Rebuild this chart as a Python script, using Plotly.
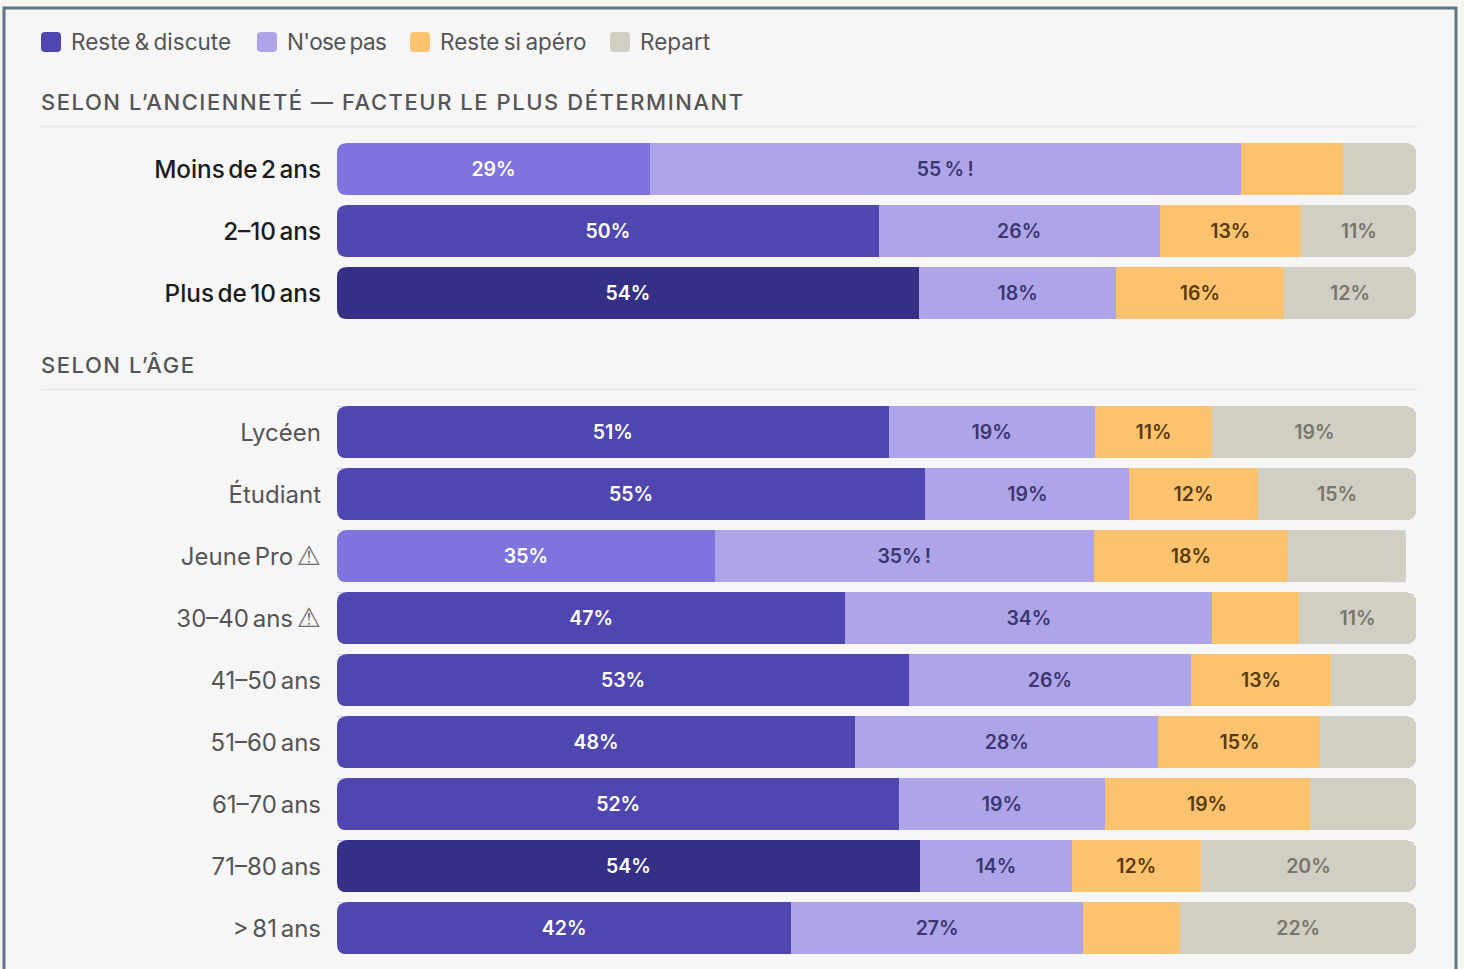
import plotly.graph_objects as go

W, H = 1464, 969

series_names = ["Reste & discute", "N'ose pas", "Reste si apéro", "Repart"]
series_colors = ["#4F46B0", "#AEA5E8", "#FBC370", "#D1CEC4"]
text_colors = ["#FFFFFF", "#3B3570", "#5A3A0C", "#77756C"]

tenure_cats = ["Moins de 2 ans", "2–10 ans", "Plus de 10 ans"]
tenure_reste = [29.0, 50.2, 53.9]
tenure_nose = [54.7, 26.0, 18.3]
tenure_apero = [9.5, 13.1, 15.5]
tenure_repart = [6.8, 10.7, 12.3]
tenure_labels = [["29%", "50%", "54%"], ["55\u202f%\u202f!", "26%", "18%"], ["", "13%", "16%"], ["", "11%", "12%"]]
tenure_first_colors = ["#7F74DD", "#4F46B0", "#362F86"]

age_cats = ["Lycéen", "Étudiant", "Jeune Pro ⚠", "30–40 ans ⚠", "41–50 ans", "51–60 ans", "61–70 ans", "71–80 ans", "> 81 ans"]
age_reste = [51.1, 54.5, 35.0, 47.1, 53.0, 48.0, 52.1, 54.0, 42.1]
age_nose = [19.1, 18.9, 35.1, 34.0, 26.1, 28.1, 19.0, 14.1, 27.0]
age_apero = [10.9, 11.9, 18.0, 8.0, 13.0, 15.0, 19.0, 11.9, 9.0]
age_repart = [18.9, 14.7, 10.9, 10.9, 7.9, 8.9, 9.9, 20.0, 21.9]
age_labels = [
    ["51%", "55%", "35%", "47%", "53%", "48%", "52%", "54%", "42%"],
    ["19%", "19%", "35%\u202f!", "34%", "26%", "28%", "19%", "14%", "27%"],
    ["11%", "12%", "18%", "", "13%", "15%", "19%", "12%", ""],
    ["19%", "15%", "", "11%", "", "", "", "20%", "22%"],
]
age_first_colors = ["#4F46B0", "#4F46B0", "#7F74DD", "#4F46B0", "#4F46B0", "#4F46B0", "#4F46B0", "#362F86", "#4F46B0"]

FONT = "Inter"
PANEL = "#F6F6F6"
px = lambda v: v / W
py = lambda v: 1 - v / H

fig = go.Figure()


def add_group(cats, rows, labels, first_colors, yaxis):
    for i, vals in enumerate(rows):
        color = first_colors if i == 0 else series_colors[i]
        fig.add_trace(go.Bar(
            y=cats, x=vals, orientation="h", name=series_names[i], yaxis=yaxis, xaxis="x",
            marker=dict(color=color, line=dict(width=0)),
            text=labels[i], textposition="inside", insidetextanchor="middle", textangle=0,
            constraintext="none", cliponaxis=False,
            textfont=dict(family=FONT, size=19.5, color=text_colors[i], weight=600),
            showlegend=False,
        ))


add_group(tenure_cats, [tenure_reste, tenure_nose, tenure_apero, tenure_repart], tenure_labels, tenure_first_colors, "y")
add_group(age_cats, [age_reste, age_nose, age_apero, age_repart], age_labels, age_first_colors, "y2")

shapes = [
    dict(type="rect", xref="paper", yref="paper", x0=px(4), x1=px(1456), y0=py(8), y1=py(990),
         fillcolor=PANEL, line=dict(color="#5F7389", width=3), layer="below"),
    dict(type="line", xref="paper", yref="paper", x0=px(41), x1=px(1417), y0=py(126.5), y1=py(126.5),
         line=dict(color="#E9E9E7", width=2), layer="below"),
    dict(type="line", xref="paper", yref="paper", x0=px(41), x1=px(1417), y0=py(389.5), y1=py(389.5),
         line=dict(color="#E9E9E7", width=2), layer="below"),
]

annotations = []
legend_swatch_left = [41, 257, 410, 610]
legend_text_left = [69, 285, 438, 638]
legend_tracking = [0, -0.6, 0, 0]
for name, color, s, t, ls in zip(series_names, series_colors, legend_swatch_left, legend_text_left, legend_tracking):
    r = 4
    x0, x1, y0, y1 = s, s + 20, 32, 52
    path = (f"M {px(x0 + r)} {py(y0)} L {px(x1 - r)} {py(y0)} Q {px(x1)} {py(y0)} {px(x1)} {py(y0 + r)} "
            f"L {px(x1)} {py(y1 - r)} Q {px(x1)} {py(y1)} {px(x1 - r)} {py(y1)} "
            f"L {px(x0 + r)} {py(y1)} Q {px(x0)} {py(y1)} {px(x0)} {py(y1 - r)} "
            f"L {px(x0)} {py(y0 + r)} Q {px(x0)} {py(y0)} {px(x0 + r)} {py(y0)} Z")
    shapes.append(dict(type="path", xref="paper", yref="paper", path=path, fillcolor=color, line=dict(width=0)))
    annotations.append(dict(text=f'<span style="word-spacing:-2px;letter-spacing:{ls}px">{name}</span>',
                            xref="paper", yref="paper", x=px(t), y=py(41.5), xanchor="left", yanchor="middle",
                            showarrow=False, font=dict(family=FONT, size=22.5, color="#555555")))

for title, y in [("SELON L’ANCIENNETÉ — FACTEUR LE PLUS DÉTERMINANT", 102), ("SELON L’ÂGE", 365)]:
    annotations.append(dict(text=f'<span style="letter-spacing:1.55px">{title}</span>', xref="paper", yref="paper",
                            x=px(39), y=py(y), xanchor="left", yanchor="middle",
                            showarrow=False, font=dict(family=FONT, size=22, color="#555555", weight=500)))

# Plotly rounds only the far end of a stack: mask the near end with panel-coloured corners
R = 10
BARGAP = 10 / 62


def round_left(top_px, bottom_px):
    x0 = 337
    for corner, inner in [(top_px, top_px + R), (bottom_px, bottom_px - R)]:
        path = (f"M {px(x0 - 0.5)} {py(corner)} L {px(x0 + R)} {py(corner)} "
                f"Q {px(x0)} {py(corner)} {px(x0)} {py(inner)} L {px(x0 - 0.5)} {py(inner)} Z")
        shapes.append(dict(type="path", xref="paper", yref="paper", path=path, fillcolor=PANEL, line=dict(width=0)))


GROUP1_TOP, GROUP2_TOP, PITCH, BAR = 138, 401.2, 62, 52
for i in range(len(tenure_cats)):
    round_left(GROUP1_TOP + PITCH * i + 5, GROUP1_TOP + PITCH * i + 5 + BAR)
for i in range(len(age_cats)):
    round_left(GROUP2_TOP + PITCH * i + 5, GROUP2_TOP + PITCH * i + 5 + BAR)

# Jeune Pro ends with a square corner: square off the rounded end of its stack
jp = age_cats.index("Jeune Pro ⚠")
jp_total = age_reste[jp] + age_nose[jp] + age_apero[jp] + age_repart[jp]
half = (1 - BARGAP) / 2
shapes.append(dict(type="rect", xref="x", yref="y2", x0=jp_total - 2, x1=jp_total,
                   y0=jp - half, y1=jp + half, fillcolor=series_colors[3], line=dict(width=0)))


def tick_text(cat):
    cat = cat.replace("⚠", "<span style=\"font-family:'DejaVu Sans';font-size:27px;fill:#6F6F6F\">⚠</span>")
    return f'<span style="word-spacing:-3px">{cat}</span>'


fig.update_layout(
    width=W, height=H, margin=dict(l=0, r=0, t=0, b=0),
    paper_bgcolor="#F5F4F0", plot_bgcolor="rgba(0,0,0,0)",
    barmode="stack", bargap=BARGAP, barcornerradius=R,
    shapes=shapes, annotations=annotations, showlegend=False,
    xaxis=dict(domain=[px(337), px(1417)], range=[0, 100.05], visible=False, fixedrange=True),
    yaxis=dict(domain=[py(GROUP1_TOP + 3 * PITCH), py(GROUP1_TOP)], autorange="reversed", anchor="x",
               showgrid=False, zeroline=False, showline=False, ticks="", ticklabelstandoff=15,
               tickmode="array", tickvals=tenure_cats, ticktext=[tick_text(c) for c in tenure_cats],
               tickfont=dict(family=FONT, size=24.3, color="#1C1C1C", weight=500)),
    yaxis2=dict(domain=[py(GROUP2_TOP + 9 * PITCH), py(GROUP2_TOP)], autorange="reversed", anchor="x",
                showgrid=False, zeroline=False, showline=False, ticks="", ticklabelstandoff=15,
                tickmode="array", tickvals=age_cats, ticktext=[tick_text(c) for c in age_cats],
                tickfont=dict(family=FONT, size=24, color="#555555")),
)

fig.write_html("out.html", config={"displayModeBar": False},
               post_script="document.body.style.margin='0';document.body.style.overflow='hidden';")
